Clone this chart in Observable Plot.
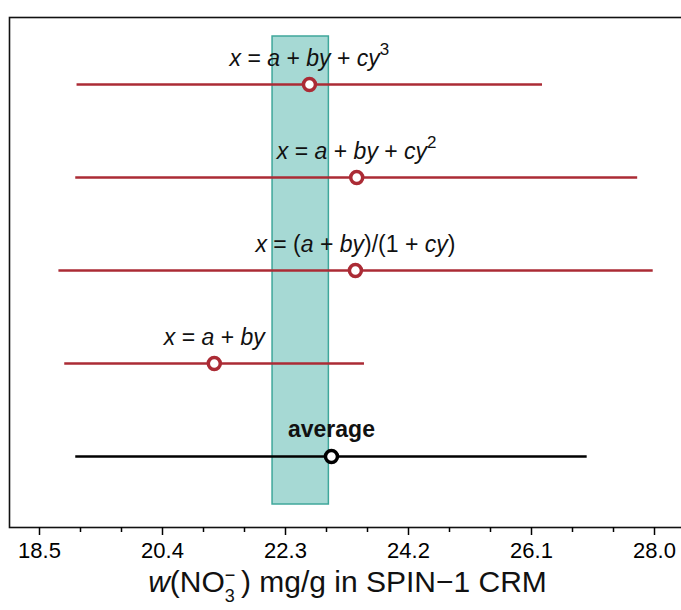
<!DOCTYPE html>
<html>
<head>
<meta charset="utf-8">
<script src="https://cdn.jsdelivr.net/npm/d3@7"></script>
<script src="https://cdn.jsdelivr.net/npm/@observablehq/plot@0.6"></script>
<style>
  html, body { margin: 0; padding: 0; background: white; overflow: hidden; }
  #chart { width: 681px; height: 610px; overflow: hidden; }
</style>
</head>
<body>
<div id="chart"></div>
<script>
// ---- data ----
const rows   = ["cubic", "quadratic", "rational", "linear", "average"];
const labels = ["x = a + by + cy^3", "x = a + by + cy^2", "x = (a + by)/(1 + cy)", "x = a + by", "average"];
const centers = [22.67, 23.40, 23.38, 21.20, 23.01];
const lows    = [19.08, 19.06, 18.80, 18.89, 19.06];
const highs   = [26.27, 27.74, 27.98, 23.52, 26.96];
const kinds   = ["fit", "fit", "fit", "fit", "mean"];
const bandLo = 22.10, bandHi = 22.97;
const xTicks = [18.5, 20.4, 22.3, 24.2, 26.1, 28.0];
const xTitle = "w(NO3) mg/g in SPIN\u22121 CRM";

const RED = "#ab2b35";
const data = rows.map((r, i) => ({row: r, label: labels[i], mid: centers[i], lo: lows[i], hi: highs[i], kind: kinds[i]}));
const fits = data.filter(d => d.kind === "fit");
const avg = data.filter(d => d.kind === "mean");
const col = d => d.kind === "mean" ? "black" : RED;
const fmt = d3.format(".1f");

// minor ticks: two between each pair of major ticks
const minorTicks = [];
for (let i = 0; i < xTicks.length - 1; i++) {
  const a = xTicks[i], b = xTicks[i + 1];
  minorTicks.push(a + (b - a) / 3, a + 2 * (b - a) / 3);
}

const FONT = "'Liberation Sans', Arial, Helvetica, sans-serif";

const chart = Plot.plot({
  width: 681,
  height: 610,
  marginLeft: 9,
  marginRight: -4,
  marginTop: 17,
  marginBottom: 83,
  style: {fontFamily: FONT, fontSize: "21px", color: "black", background: "white", overflow: "hidden"},
  x: {domain: [18.0366, 28.4788]},
  y: {type: "point", domain: rows, range: [83, 457], padding: 0, axis: null},
  marks: [
    Plot.rect([{x1: bandLo, x2: bandHi}], {x1: "x1", x2: "x2", fill: "#a6d9d4", stroke: "#3fa79b", strokeWidth: 1.5, insetTop: 19, insetBottom: 23}),
    Plot.frame({stroke: "#111", strokeWidth: 1.6}),
    Plot.axisX({ticks: minorTicks, tickSize: 5, tickFormat: () => "", label: null, strokeWidth: 1.5}),
    Plot.axisX({ticks: xTicks, tickSize: 8, tickPadding: 7, tickFormat: fmt, label: null, strokeWidth: 1.5}),
    Plot.ruleY(data, {y: "row", x1: "lo", x2: "hi", stroke: col, strokeWidth: 2.5}),
    Plot.dot(data, {x: "mid", y: "row", r: 6, stroke: col, fill: "white", strokeWidth: 3.5}),
    Plot.text(fits, {x: "mid", y: "row", text: "label", dy: -26, fontSize: 23, fill: "#111", className: "mathlbl"}),
    Plot.text(avg, {x: "mid", y: "row", text: "label", dy: -27, fontSize: 23, fontWeight: "bold", fill: "#111"}),
    Plot.text([xTitle], {frameAnchor: "bottom", lineAnchor: "middle", dy: 55, fontSize: 30, fill: "#111", className: "xtitle"})
  ]
});
document.getElementById("chart").appendChild(chart);

// tick labels: a touch larger, like the reference
const tickStrings = new Set(xTicks.map(fmt));
chart.querySelectorAll("text").forEach(t => {
  if (tickStrings.has(t.textContent.trim())) {
    t.setAttribute("font-size", "22px");
    t.style.fontSize = "22px";
  }
});

// ---- typographic post-processing: italics, superscripts, stacked sub/superscript ----
const NS = "http://www.w3.org/2000/svg";
function tspan(parent, txt, attrs) {
  const t = document.createElementNS(NS, "tspan");
  t.textContent = txt;
  for (const k in attrs) t.setAttribute(k, attrs[k]);
  parent.appendChild(t);
  return t;
}
chart.querySelectorAll(".mathlbl text").forEach(el => {
  const s = el.textContent;
  el.textContent = "";
  const re = /\^(\d)|([A-Za-z]+)|([^A-Za-z^]+)/g;
  let m;
  while ((m = re.exec(s))) {
    if (m[1]) tspan(el, m[1], {"font-size": "17px", dy: "-11"});
    else if (m[2]) tspan(el, m[2], {"font-style": "italic"});
    else tspan(el, m[3], {});
  }
});
chart.querySelectorAll(".xtitle text").forEach(el => {
  el.textContent = "";
  tspan(el, "w", {"font-style": "italic"});
  tspan(el, "(NO", {});
  const sup = tspan(el, "\u2212", {"font-size": "18px", dy: "-11"});
  const w = sup.getComputedTextLength();
  tspan(el, "3", {"font-size": "18px", dy: "21", dx: String(-w)});
  tspan(el, "\u2009) mg/g in SPIN\u22121 CRM", {dy: "-10"});
});
</script>
</body>
</html>
